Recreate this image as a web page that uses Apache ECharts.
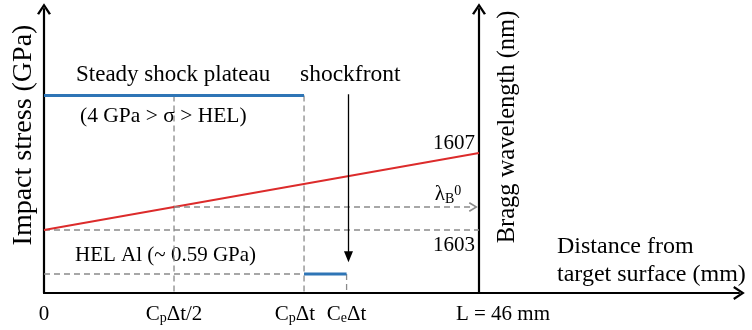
<!DOCTYPE html>
<html>
<head>
<meta charset="utf-8">
<script src="https://cdn.jsdelivr.net/npm/echarts@6/dist/echarts.min.js"></script>
<style>
  html, body { margin: 0; padding: 0; background: #ffffff; }
  #chart { width: 752px; height: 330px; }
</style>
</head>
<body>
<div id="chart"></div>
<script>
// Distance from target surface (mm)
const targetLength = 46;          // L
const plateauEnd = 27.5;          // Cp·Δt
const plateauMid = 13.75;         // Cp·Δt/2
const elasticFront = 32;          // Ce·Δt
const shockfrontPos = 32.2;
const distTicks = [0, 13.75, 27.5, 32, 46];
const distTickLabels = ['0', 'C_pΔt/2', 'C_pΔt', 'C_eΔt', 'L = 46 mm'];

// Impact stress (GPa)
const plateauStress = 3.5;        // 4 GPa > σ > HEL
const helStress = 0.59;           // HEL of Al
const shockfrontArrow = [3.52, 0.87];

// Bragg wavelength (nm)
const braggAtSurface = 1603;
const braggAtRear = 1607;
const braggTicks = [1603, 1607];
const braggAtMid = 1604.2;        // λB0, read at Cp·Δt/2
const lambdaArrowEnd = 45.4;

const SERIF = 'Liberation Serif';
const BLUE = '#2e75b6';
const RED = '#dc2b2b';
const GREY = '#8a8a8a';
const CHEVRON = 'path://M0,9 L6,0 L12,9 L10.2,10 L6,3.4 L1.8,10 Z';

// "C_p" -> rich text with a subscript
function subRich(s) {
  const m = s.match(/^(.*?)_(.)(.*)$/);
  if (!m) return '{n|' + s + '}';
  return (m[1] ? '{n|' + m[1] + '}' : '') + '{s|' + m[2] + '}' + (m[3] ? '{n|' + m[3] + '}' : '');
}
// small horizontal nudges for some tick labels
const labelNudge = { 27.5: 'padR', 46: 'padL' };

const chart = echarts.init(document.getElementById('chart'), null, { renderer: 'canvas' });

const dashed = { type: [6, 4], width: 1.3, color: GREY };
const yMin = 0.28;

chart.setOption({
  animation: false,
  backgroundColor: '#ffffff',
  textStyle: { fontFamily: SERIF },
  grid: [
    { left: 44, right: 13, top: 9, bottom: 37 },
    { left: 44, right: 273, top: 9, bottom: 37 }
  ],
  xAxis: [
    {
      type: 'value', gridIndex: 0, min: 0, max: 73.5,
      splitLine: { show: false },
      axisTick: { show: false },
      axisLine: {
        show: true, onZero: false,
        symbol: ['none', CHEVRON], symbolSize: [14, 12],
        lineStyle: { color: '#000', width: 2.2 }
      },
      axisLabel: {
        customValues: distTicks,
        margin: 10,
        fontFamily: SERIF, fontSize: 21, color: '#000',
        formatter: function (v) {
          const i = distTicks.indexOf(v);
          if (i < 0) return '';
          const nudge = labelNudge[v];
          const body = subRich(distTickLabels[i]);
          if (nudge === 'padR') return body + '{padR|}';
          if (nudge === 'padL') return '{padL|}' + body;
          return body;
        },
        rich: {
          n: { fontFamily: SERIF, fontSize: 21, color: '#000', lineHeight: 22 },
          s: { fontFamily: SERIF, fontSize: 14, color: '#000', lineHeight: 10, verticalAlign: 'bottom' },
          padR: { width: 18 },
          padL: { width: 48 }
        }
      },
      name: 'Distance from\ntarget surface (mm)',
      nameLocation: 'end',
      nameGap: -182,
      nameTextStyle: {
        fontFamily: SERIF, fontSize: 24, color: '#000',
        align: 'left', verticalAlign: 'bottom', lineHeight: 28,
        padding: [0, 0, 4, 0]
      }
    },
    {
      type: 'value', gridIndex: 1, min: 0, max: targetLength, show: false
    }
  ],
  yAxis: [
    {
      type: 'value', gridIndex: 0, min: yMin, max: 4.91,
      splitLine: { show: false },
      axisTick: { show: false },
      axisLabel: { show: false },
      axisLine: {
        show: true, onZero: false,
        symbol: ['none', CHEVRON], symbolSize: [14, 12],
        lineStyle: { color: '#000', width: 2.2 }
      },
      name: 'Impact stress (GPa)',
      nameLocation: 'middle',
      nameRotate: 90,
      nameGap: 6,
      nameTextStyle: { fontFamily: SERIF, fontSize: 28, color: '#000', padding: [0, 0, 0, 32] }
    },
    {
      type: 'value', gridIndex: 1, position: 'right',
      min: 1599.727, max: 1614.48,
      splitLine: { show: false },
      axisTick: { show: false },
      axisLine: {
        show: true, onZero: false,
        symbol: ['none', CHEVRON], symbolSize: [14, 12],
        lineStyle: { color: '#000', width: 2.2 }
      },
      axisLabel: {
        customValues: braggTicks,
        inside: true,
        margin: 4,
        fontFamily: SERIF, fontSize: 21, color: '#000',
        formatter: function (v) {
          return v === braggAtRear ? '{up|' + v + '}' : '{dn|' + v + '}';
        },
        rich: {
          up: { fontFamily: SERIF, fontSize: 21, color: '#000', padding: [0, 0, 20, 0] },
          dn: { fontFamily: SERIF, fontSize: 21, color: '#000', padding: [30, 0, 0, 0] }
        }
      },
      name: 'Bragg wavelength (nm)',
      nameLocation: 'middle',
      nameRotate: 90,
      nameGap: 16,
      nameTextStyle: { fontFamily: SERIF, fontSize: 24.5, color: '#000', padding: [0, 0, 0, 48] }
    }
  ],
  series: [
    // reference lines on the stress axis
    {
      type: 'line', xAxisIndex: 0, yAxisIndex: 0, showSymbol: false, silent: true,
      lineStyle: dashed,
      data: [[plateauMid, plateauStress], [plateauMid, yMin]]
    },
    {
      type: 'line', xAxisIndex: 0, yAxisIndex: 0, showSymbol: false, silent: true,
      lineStyle: dashed,
      data: [[plateauEnd, plateauStress], [plateauEnd, yMin]]
    },
    {
      type: 'line', xAxisIndex: 0, yAxisIndex: 0, showSymbol: false, silent: true,
      lineStyle: dashed,
      data: [[elasticFront, helStress], [elasticFront, yMin]]
    },
    {
      type: 'line', xAxisIndex: 0, yAxisIndex: 0, showSymbol: false, silent: true,
      lineStyle: dashed,
      data: [[0, helStress], [plateauEnd, helStress]]
    },
    // reference lines on the wavelength axis
    {
      type: 'line', xAxisIndex: 1, yAxisIndex: 1, showSymbol: false, silent: true,
      lineStyle: dashed,
      data: [[0, braggAtSurface], [targetLength, braggAtSurface]]
    },
    {
      type: 'line', xAxisIndex: 1, yAxisIndex: 1, showSymbol: false, silent: true,
      data: [],
      markLine: {
        silent: true,
        symbol: ['none', CHEVRON], symbolSize: [10, 9],
        lineStyle: { type: [6, 4], width: 1.5, color: GREY },
        label: {
          show: true, position: 'insideEndTop', distance: [12, 1],
          formatter: '{n|λ}{s|B}{u|0}',
          rich: {
            n: { fontFamily: SERIF, fontSize: 21, color: '#000', lineHeight: 22 },
            s: { fontFamily: SERIF, fontSize: 14, color: '#000', lineHeight: 9, verticalAlign: 'bottom' },
            u: { fontFamily: SERIF, fontSize: 14, color: '#000', lineHeight: 9, verticalAlign: 'top' }
          }
        },
        data: [[{ coord: [plateauMid, braggAtMid] }, { coord: [lambdaArrowEnd, braggAtMid] }]]
      }
    },
    // Bragg wavelength along the target
    {
      type: 'line', xAxisIndex: 1, yAxisIndex: 1, showSymbol: false, silent: true,
      lineStyle: { color: RED, width: 1.8 },
      data: [[0, braggAtSurface], [targetLength, braggAtRear]]
    },
    // steady shock plateau and HEL step
    {
      type: 'line', xAxisIndex: 0, yAxisIndex: 0, showSymbol: false, silent: true,
      lineStyle: { color: BLUE, width: 3 },
      data: [[0, plateauStress], [plateauEnd, plateauStress]]
    },
    {
      type: 'line', xAxisIndex: 0, yAxisIndex: 0, showSymbol: false, silent: true,
      lineStyle: { color: BLUE, width: 3 },
      data: [[plateauEnd, helStress], [elasticFront, helStress]]
    },
    // shockfront arrow
    {
      type: 'line', xAxisIndex: 0, yAxisIndex: 0, showSymbol: false, silent: true,
      data: [],
      markLine: {
        silent: true,
        symbol: ['none', 'triangle'], symbolSize: [9, 11],
        lineStyle: { type: 'solid', width: 1.3, color: '#000' },
        label: { show: false },
        data: [[{ coord: [shockfrontPos, shockfrontArrow[0]] }, { coord: [shockfrontPos, shockfrontArrow[1]] }]]
      }
    }
  ],
  graphic: [
    { type: 'text', left: 76, top: 63, style: { text: 'Steady shock plateau', font: '23px "Liberation Serif"', fill: '#000' } },
    { type: 'text', left: 300, top: 63, style: { text: 'shockfront', font: '23.5px "Liberation Serif"', fill: '#000' } },
    { type: 'text', left: 80, top: 105, style: { text: '(4 GPa > σ > HEL)', font: '21.5px "Liberation Serif"', fill: '#000' } },
    { type: 'text', left: 75, top: 245, style: { text: 'HEL Al (~ 0.59 GPa)', font: '21px "Liberation Serif"', fill: '#000' } }
  ]
});
</script>
</body>
</html>
